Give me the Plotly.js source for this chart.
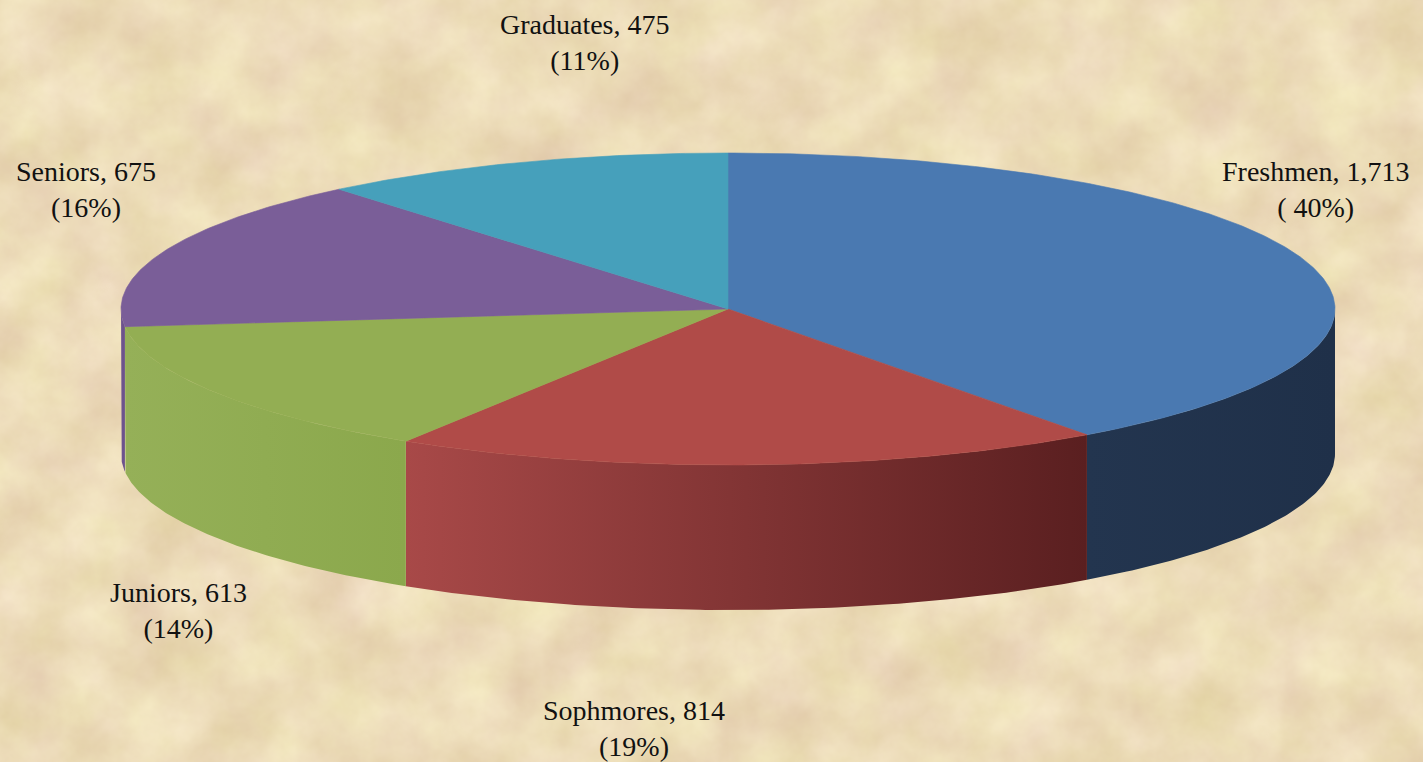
<!DOCTYPE html>
<html>
<head>
<meta charset="utf-8">
<script src="https://cdn.plot.ly/plotly-3.0.1.min.js"></script>
<style>html,body{margin:0;padding:0;background:#ecdcb8;}#chart{width:1423px;height:762px;}</style>
</head>
<body>
<div id="chart"></div>
<script>
// ---- data ----
const categories = ["Freshmen", "Sophmores", "Juniors", "Seniors", "Graduates"];
const values = [1713, 814, 613, 675, 475];
const pctLabels = ["( 40%)", "(19%)", "(14%)", "(16%)", "(11%)"];

// ---- styles ----
const topColors = ["#4a79b1", "#b04b48", "#93ae53", "#7a5e98", "#46a0bb"];
const sideColors = [["#23354f", "#1f3049"], ["#a84948", "#5a1f20"], ["#95b058", "#8ba84c"], ["#6f5590", "#6a5189"], ["#3c8aa2", "#3c8aa2"]];
const labelPos = [[1315, 189], [634, 728], [178, 610], [86, 189], [585, 42]];

// ---- geometry (layout, in pixel space) ----
const W = 1423, H = 762;
const cx = 728, cy = 309, rx = 607, ry = 156, depth = 145;
const total = values.reduce((a, b) => a + b, 0);

function pt(theta, dy) {
  return [cx + rx * Math.sin(theta), cy - ry * Math.cos(theta) + (dy || 0)];
}
function arc(t0, t1, dy) {
  const n = Math.max(2, Math.ceil((t1 - t0) / (Math.PI / 360)));
  const xs = [], ys = [];
  for (let i = 0; i <= n; i++) {
    const p = pt(t0 + (t1 - t0) * i / n, dy);
    xs.push(p[0]); ys.push(p[1]);
  }
  return [xs, ys];
}

const sideTraces = [], topTraces = [];
let cum = 0;
values.forEach((v, i) => {
  const t0 = cum / total * 2 * Math.PI;
  cum += v;
  const t1 = cum / total * 2 * Math.PI;
  // side wall (front-facing part, between 90deg and 270deg from top)
  const s0 = Math.max(t0, Math.PI / 2), s1 = Math.min(t1, 3 * Math.PI / 2);
  if (s1 > s0) {
    const a = arc(s0, s1, 0), b = arc(s0, s1, depth);
    const xs = a[0].concat(b[0].slice().reverse());
    const ys = a[1].concat(b[1].slice().reverse());
    xs.push(xs[0]); ys.push(ys[0]);
    sideTraces.push({
      type: "scatter", mode: "lines", x: xs, y: ys, fill: "toself",
      fillgradient: {type: "horizontal", colorscale: [[0, sideColors[i][0]], [1, sideColors[i][1]]]},
      line: {width: 0, color: sideColors[i][1]}, hoverinfo: "skip", showlegend: false
    });
  }
  // top face
  const a = arc(t0, t1, 0);
  const xs = [cx].concat(a[0], [cx]);
  const ys = [cy].concat(a[1], [cy]);
  topTraces.push({
    type: "scatter", mode: "lines", x: xs, y: ys, fill: "toself",
    fillcolor: topColors[i], line: {width: 0.6, color: topColors[i]},
    hoverinfo: "skip", showlegend: false, name: categories[i]
  });
});

const annotations = categories.map((c, i) => ({
  x: labelPos[i][0], y: labelPos[i][1], xref: "x", yref: "y",
  text: c + ", " + values[i].toLocaleString("en-US") + "<br>" + pctLabels[i],
  showarrow: false, align: "center",
  font: {family: "Liberation Serif, Times New Roman, serif", size: 28, color: "#111"}
}));

// parchment texture as a background image
const svg = "<svg xmlns='http://www.w3.org/2000/svg' width='1423' height='762'>" +
  "<filter id='f' x='0' y='0' width='100%' height='100%' color-interpolation-filters='sRGB'>" +
  "<feTurbulence type='fractalNoise' baseFrequency='0.016' numOctaves='5' seed='11'/>" +
  "<feColorMatrix type='matrix' values='0.10 0 0 0 0.875  0.14 -0.04 0 0 0.81  0.16 0.05 0 0 0.615  0 0 0 0 1'/>" +
  "</filter><rect width='100%' height='100%' filter='url(#f)'/></svg>";

const layout = {
  width: W, height: H,
  margin: {l: 0, r: 0, t: 0, b: 0},
  paper_bgcolor: "#ecdcb8", plot_bgcolor: "rgba(0,0,0,0)",
  xaxis: {range: [0, W], visible: false, fixedrange: true},
  yaxis: {range: [H, 0], visible: false, fixedrange: true},
  showlegend: false,
  annotations: annotations,
  images: [{
    source: "data:image/svg+xml;charset=utf-8," + encodeURIComponent(svg),
    xref: "paper", yref: "paper", x: 0, y: 1, sizex: 1, sizey: 1,
    sizing: "stretch", layer: "below", xanchor: "left", yanchor: "top"
  }]
};

Plotly.newPlot("chart", sideTraces.concat(topTraces), layout, {displayModeBar: false, staticPlot: true});
</script>
</body>
</html>
